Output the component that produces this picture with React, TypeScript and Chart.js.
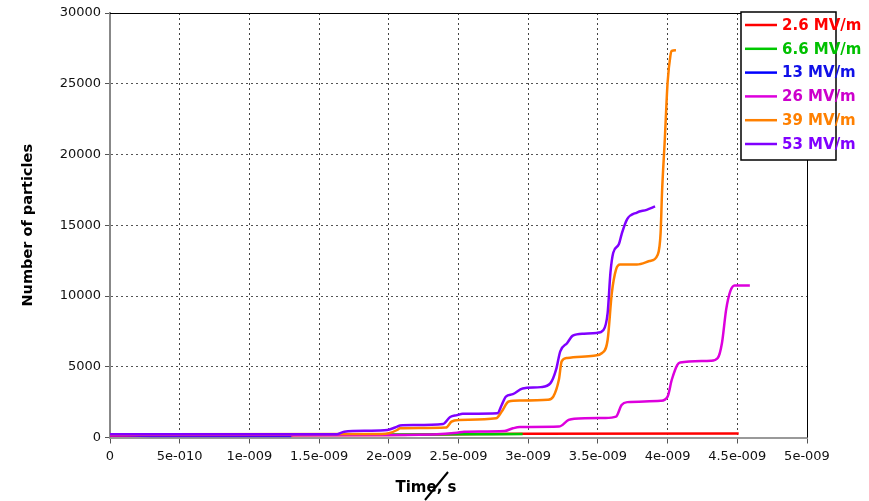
import React, { useEffect, useRef } from "react";
import { Chart, registerables } from "chart.js";

Chart.register(...registerables);

// ---- data (time in ns, values = number of particles) ----
const seriesLabels = ["2.6 MV/m", "6.6 MV/m", "13 MV/m", "26 MV/m", "39 MV/m", "53 MV/m"];
const seriesColors = ["#ff0000", "#00c800", "#0000ff", "#dd00dd", "#ff8000", "#8000ff"];
const legendTextColors = ["#ff0000", "#00c000", "#1010e8", "#cc00cc", "#ff8000", "#8000ff"];

const redT = [0, 1.3, 2.0, 2.5, 3.0, 4.51];
const redV = [130, 150, 180, 230, 270, 280];

const greenT = [0, 1.0, 2.0, 2.5, 2.96];
const greenV = [200, 200, 210, 230, 240];

const blueT = [0, 0.3, 0.8, 1.3];
const blueV = [180, 110, 100, 100];

const magentaT = [0, 2.12, 2.49, 2.54, 2.83, 2.89, 2.94, 3.22, 3.29, 3.33, 3.55, 3.63, 3.67, 3.71, 3.95, 4.0, 4.03, 4.07, 4.09, 4.31, 4.36, 4.39, 4.42, 4.45, 4.48, 4.59];
const magentaV = [150, 180, 340, 410, 460, 650, 740, 770, 1240, 1330, 1380, 1480, 2300, 2500, 2590, 2890, 4080, 5140, 5300, 5420, 5620, 6680, 9040, 10340, 10740, 10740];

const orangeT = [0, 1.95, 2.0, 2.06, 2.08, 2.41, 2.45, 2.5, 2.77, 2.81, 2.86, 2.94, 3.14, 3.18, 3.22, 3.24, 3.28, 3.47, 3.53, 3.57, 3.6, 3.63, 3.66, 3.78, 3.87, 3.93, 3.95, 3.96, 3.98, 4.0, 4.02, 4.03, 4.06];
const orangeV = [230, 250, 300, 530, 650, 700, 1120, 1240, 1360, 1830, 2540, 2610, 2660, 2890, 4080, 5380, 5620, 5780, 5970, 6910, 10220, 11870, 12230, 12230, 12470, 12940, 14480, 17310, 21080, 25090, 26970, 27320, 27370];

const purpleT = [0, 1.63, 1.68, 1.85, 1.99, 2.06, 2.08, 2.18, 2.39, 2.44, 2.49, 2.53, 2.78, 2.81, 2.84, 2.89, 2.96, 3.09, 3.16, 3.2, 3.23, 3.28, 3.32, 3.4, 3.49, 3.54, 3.57, 3.59, 3.61, 3.65, 3.67, 3.71, 3.78, 3.85, 3.91];
const purpleV = [230, 230, 410, 480, 530, 770, 850, 880, 960, 1450, 1580, 1680, 1720, 2300, 2890, 3060, 3460, 3560, 3840, 4790, 6090, 6680, 7200, 7340, 7390, 7600, 8810, 11650, 13060, 13650, 14360, 15430, 15900, 16090, 16330];

const xTickLabels = ["0", "5e-010", "1e-009", "1.5e-009", "2e-009", "2.5e-009", "3e-009", "3.5e-009", "4e-009", "4.5e-009", "5e-009"];
const yTickLabels = ["0", "5000", "10000", "15000", "20000", "25000", "30000"];
const yTitle = "Number of particles";
const xTitle = "Time, s";

const seriesT = [redT, greenT, blueT, magentaT, orangeT, purpleT];
const seriesV = [redV, greenV, blueV, magentaV, orangeV, purpleV];
const drawOrder = [5, 4, 3, 2, 1, 0];

const FONT = '"DejaVu Sans", Verdana, sans-serif';

const decorPlugin = {
  id: "decor",
  afterDraw(chart: any) {
    const { ctx, chartArea: a } = chart;
    ctx.save();
    // top & right border
    ctx.strokeStyle = "#000";
    ctx.lineWidth = 1;
    ctx.beginPath();
    ctx.moveTo(a.left, a.top + 0.5);
    ctx.lineTo(a.right + 0.5, a.top + 0.5);
    ctx.lineTo(a.right + 0.5, a.bottom);
    ctx.stroke();

    // x title
    ctx.font = `bold 15px ${FONT}`;
    ctx.fillStyle = "#000";
    ctx.textAlign = "center";
    ctx.textBaseline = "middle";
    ctx.fillText(xTitle, 426, 488);
    // stray slash through the title
    ctx.strokeStyle = "#000";
    ctx.lineWidth = 2;
    ctx.beginPath();
    ctx.moveTo(425, 500);
    ctx.lineTo(448, 472);
    ctx.stroke();

    // legend
    const bx = 741, by = 12, bw = 95, bh = 148;
    ctx.fillStyle = "#fff";
    ctx.fillRect(bx, by, bw, bh);
    ctx.strokeStyle = "#000";
    ctx.lineWidth = 1.5;
    ctx.strokeRect(bx, by, bw, bh);
    ctx.font = `bold 15px ${FONT}`;
    ctx.textAlign = "left";
    ctx.textBaseline = "middle";
    seriesLabels.forEach((lab, i) => {
      const y = 25 + i * 23.8;
      ctx.strokeStyle = seriesColors[i];
      ctx.lineWidth = 2.5;
      ctx.beginPath();
      ctx.moveTo(745, y);
      ctx.lineTo(777, y);
      ctx.stroke();
      ctx.fillStyle = legendTextColors[i];
      ctx.fillText(lab, 782, y + 1);
    });
    ctx.restore();
  },
};

export default function App() {
  const ref = useRef<HTMLCanvasElement | null>(null);
  useEffect(() => {
    if (!ref.current) return;
    const datasets = seriesLabels.map((label, i) => ({
      label,
      data: seriesT[i].map((t, k) => ({ x: t * 1e-9, y: seriesV[i][k] })),
      borderColor: seriesColors[i],
      backgroundColor: seriesColors[i],
      borderWidth: 2.5,
      pointRadius: 0,
      cubicInterpolationMode: "monotone" as const,
      fill: false,
      order: drawOrder[i],
    }));
    const chart = new Chart(ref.current, {
      type: "line",
      data: { datasets },
      plugins: [decorPlugin],
      options: {
        animation: false,
        responsive: false,
        layout: { padding: { left: 0, right: 62, top: 13, bottom: 0 } },
        plugins: { legend: { display: false }, tooltip: { enabled: false } },
        scales: {
          x: {
            type: "linear",
            min: 0,
            max: 5e-9,
            afterFit: (s: any) => {
              s.height = 63.5;
            },
            afterBuildTicks: (s: any) => {
              s.ticks = xTickLabels.map((_, i) => ({ value: i * 5e-10 }));
            },
            ticks: {
              autoSkip: false,
              maxRotation: 0,
              padding: 5,
              color: "#111",
              font: { family: FONT, size: 13 },
              callback: (_v: any, i: number) => xTickLabels[i],
            },
            grid: {
              color: (c: any) => (c.index === 0 ? "rgba(0,0,0,0)" : "#444"),
              tickLength: 6,
              tickBorderDash: [],
              tickColor: "#555",
            },
            border: { color: "#999", width: 2, dash: [2, 3] },
          },
          y: {
            type: "linear",
            min: 0,
            max: 30000,
            afterFit: (s: any) => {
              s.width = 110;
            },
            ticks: {
              stepSize: 5000,
              padding: 4,
              color: "#111",
              font: { family: FONT, size: 13 },
              callback: (_v: any, i: number) => yTickLabels[i],
            },
            grid: {
              color: (c: any) => (c.index === 0 ? "rgba(0,0,0,0)" : "#555"),
              tickColor: "#555",
              tickLength: 5,
            },
            border: { color: "#888", width: 2, dash: [2, 3] },
            title: {
              display: true,
              text: yTitle,
              color: "#000",
              font: { family: FONT, size: 14.5, weight: "bold" },
              padding: { top: 20, bottom: 0 },
            },
          },
        },
      },
    });
    return () => chart.destroy();
  }, []);
  return (
    <div style={{ position: "absolute", left: 0, top: 0, width: 869, height: 501, background: "#fff" }}>
      <canvas ref={ref} width={869} height={501} style={{ display: "block" }} />
    </div>
  );
}
